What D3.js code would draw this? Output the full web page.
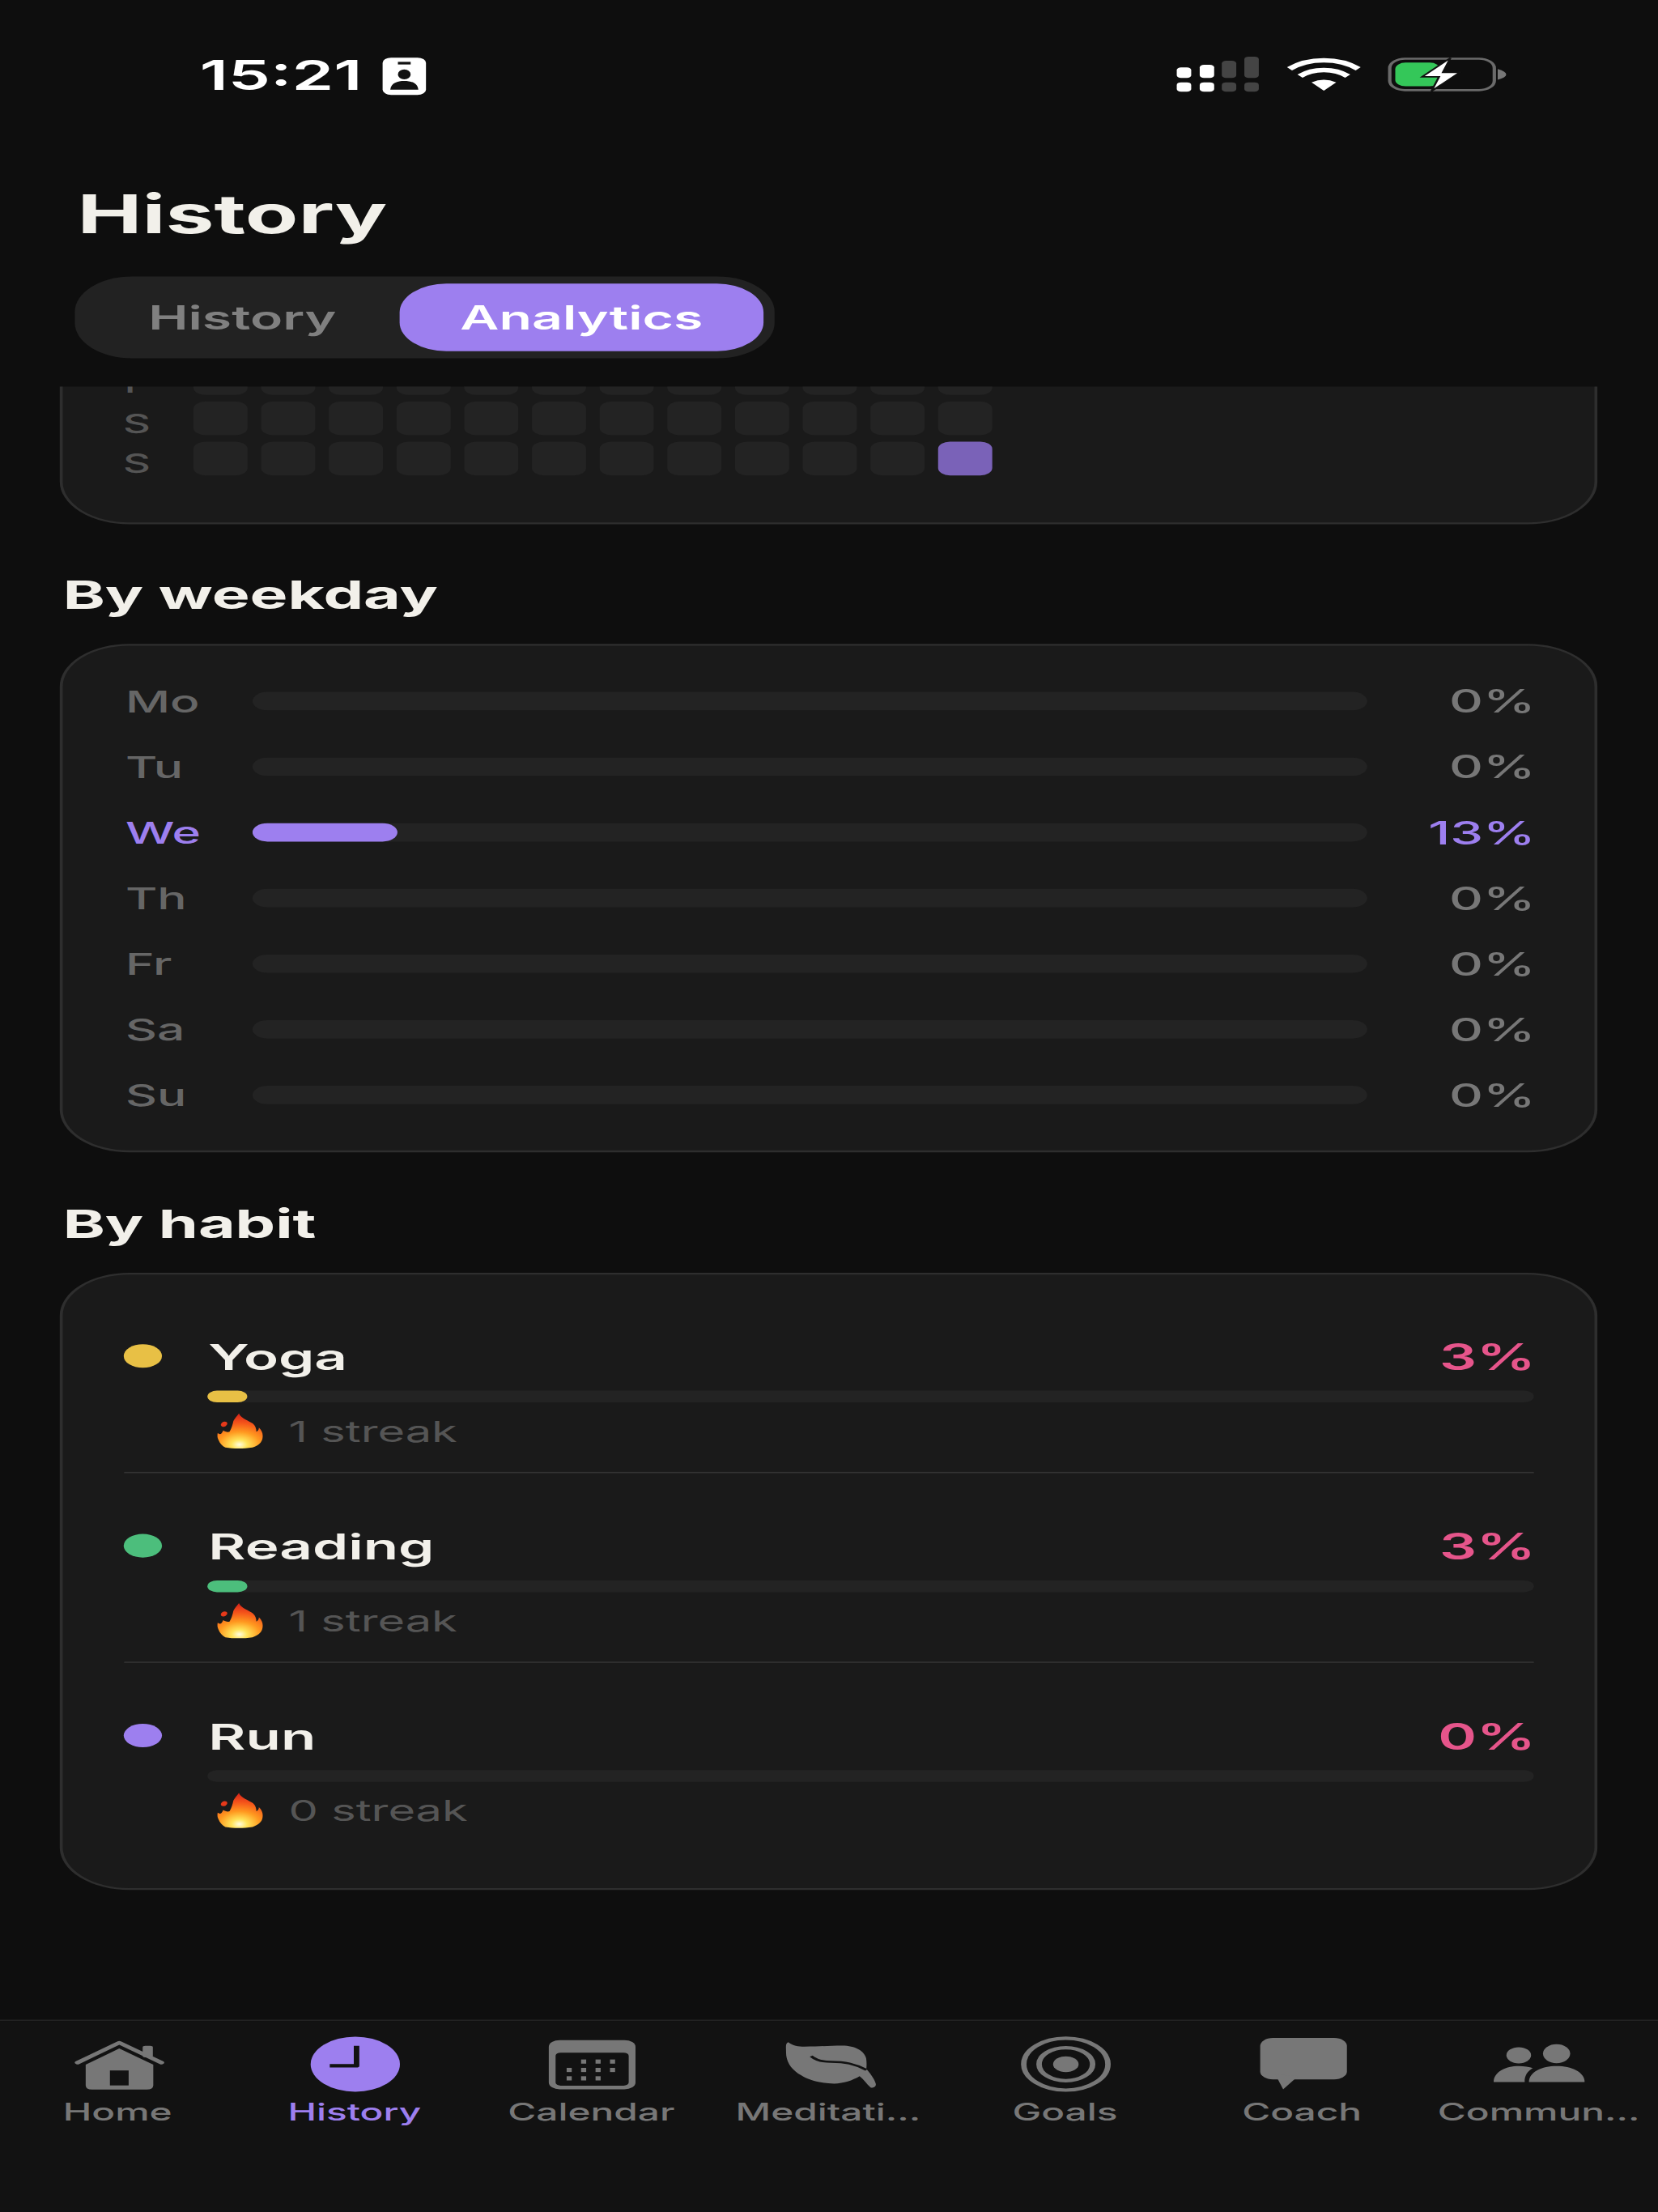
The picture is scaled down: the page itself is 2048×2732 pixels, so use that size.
<!DOCTYPE html>
<html><head><meta charset="utf-8">
<script src="https://cdnjs.cloudflare.com/ajax/libs/d3/7.8.5/d3.min.js"></script>
<style>html,body{margin:0;background:#0e0e0e}svg{display:block}text{font-family:Inter,"Noto Sans",sans-serif}</style>
</head><body>
<div id="chart"></div>
<script>
// ---- data ----
const weekdays = ["Mo","Tu","We","Th","Fr","Sa","Su"];
const weekdayValues = [0,0,13,0,0,0,0];
const habits = ["Yoga","Reading","Run"];
const habitValues = [3,3,0];
const habitStreaks = [1,1,0];
const habitColors = ["#e8c045","#4cbe7c","#9d7fef"];
const heatRows = ["F","S","S"];
const heatColumns = d3.range(12);
const heatValues = [
 [0,0,0,0,0,0,0,0,0,0,0,0],
 [0,0,0,0,0,0,0,0,0,0,0,0],
 [0,0,0,0,0,0,0,0,0,0,0,1]];
const navLabels = ["Home","History","Calendar","Meditati...","Goals","Coach","Commun..."];
const tabs = ["History","Analytics"];

const svg = d3.select("#chart").append("svg")
  .attr("width",2048).attr("height",2732)
  .attr("viewBox","0 0 390 844").attr("preserveAspectRatio","none");
const PURPLE="#9d7fef", BG="#0e0e0e", CARD="#1a1a1a", LINE="#2e2e2e", TRACK="#232323";
svg.append("rect").attr("width",390).attr("height",844).attr("fill",BG);
function label(g,t,x,y,size,weight,color,anchor){
  return g.append("text").text(t).attr("x",x).attr("y",y).attr("font-size",size)
   .attr("font-weight",weight).attr("fill",color).attr("text-anchor",anchor||"start")
   .attr("dominant-baseline","central");
}
function card(y0,y1,parent){
  (parent||svg).append("rect").attr("x",14.4).attr("y",y0).attr("width",361).attr("height",y1-y0)
   .attr("rx",16).attr("fill",CARD).attr("stroke",LINE).attr("stroke-width",.7);
}
// ---- status bar ----
label(svg,"15:21",47,28.6,15.8,600,"#fff");
const idc=svg.append("g").attr("transform","translate(90,22)");
idc.append("rect").attr("width",10.2).attr("height",14.2).attr("rx",2).attr("fill","#fff");
idc.append("rect").attr("x",3.6).attr("y",1.6).attr("width",3).attr("height",1).attr("fill","#111");
idc.append("ellipse").attr("cx",5.1).attr("cy",6.4).attr("rx",1.5).attr("ry",1.9).attr("fill","#111");
idc.append("path").attr("d","M1.8,12.2C2,9.6 3.5,8.9 5.1,8.9C6.7,8.9 8.2,9.6 8.4,12.2Z").attr("fill","#111");
const sig=[[276.8,25.7],[282.2,24.7],[287.4,23.2],[292.7,21.6]];
sig.forEach((s,i)=>{const c=i<2?"#fff":"#444";
 svg.append("rect").attr("x",s[0]).attr("y",s[1]).attr("width",3.4).attr("height",29.7-s[1]).attr("rx",1).attr("fill",c);
 svg.append("rect").attr("x",s[0]).attr("y",31.4).attr("width",3.4).attr("height",3.6).attr("rx",1).attr("fill",c);});
const wifi=svg.append("g").attr("transform","translate(311.4,34.6)");
[[11.6,.77,1.7],[7.9,.79,1.7]].forEach(a=>wifi.append("path").attr("fill","none").attr("stroke","#fff").attr("stroke-width",a[2])
  .attr("d",d3.arc()({innerRadius:a[0],outerRadius:a[0],startAngle:-a[1],endAngle:a[1]})));
wifi.append("path").attr("d","M-2.9,-3.2Q0,-5.2 2.9,-3.2L0,0Z").attr("fill","#fff");
svg.append("rect").attr("x",326.9).attr("y",22.4).attr("width",24.6).attr("height",12).attr("rx",3.6).attr("fill","none").attr("stroke","#6a6a6a").attr("stroke-width",.8);
svg.append("rect").attr("x",328.2).attr("y",23.9).attr("width",10.5).attr("height",9).attr("rx",2.4).attr("fill","#34c759");
svg.append("path").attr("d","M352.3,26.3Q354.3,27.2 354.3,28.4Q354.3,29.6 352.3,30.4Z").attr("fill","#777");
svg.append("path").attr("d","M341.2,22.1L334.5,29.3H338.5L336.7,34.8L343.4,27.6H339.4Z").attr("fill","#fff").attr("stroke","#111").attr("stroke-width",.5);
// ---- scrolled content, clipped under the header ----
svg.append("clipPath").attr("id","scroll").append("rect").attr("x",0).attr("y",147.5).attr("width",390).attr("height",623);
const body=svg.append("g").attr("clip-path","url(#scroll)");
card(60,199.7,body);
const hx=d3.scaleBand().domain(heatColumns).range([45.5,233.4]).paddingInner(.2).paddingOuter(0);
const hy=d3.scaleBand().domain(d3.range(3)).range([137.8,181.4]).paddingInner(.16).paddingOuter(0);
heatRows.forEach((r,i)=>{
  label(body,r,32.2,hy(i)+hy.bandwidth()/2+2,10,500,"#555","middle");
  body.selectAll(null).data(heatValues[i]).join("rect")
   .attr("x",(d,j)=>hx(j)).attr("y",hy(i)).attr("width",hx.bandwidth()).attr("height",hy.bandwidth())
   .attr("rx",2.8).attr("fill",d=>d?"#7a62b8":TRACK);
});
// ---- header ----
label(svg,"History",18.2,81.6,20.4,700,"#f2f0ea");
svg.append("rect").attr("x",17.6).attr("y",105.5).attr("width",164.6).attr("height",31.2).attr("rx",13.5).attr("fill","#222");
svg.append("rect").attr("x",94).attr("y",108.2).attr("width",85.6).attr("height",25.8).attr("rx",11).attr("fill",PURPLE);
label(svg,tabs[0],57,121.2,12.6,600,"#808080","middle");
label(svg,tabs[1],136.8,121.2,12.6,600,"#fff","middle");
// ---- by weekday ----
label(body,"By weekday",14.8,227,15,700,"#f2f0ea");
card(246,439.3,body);
const wy=d3.scalePoint().domain(weekdays).range([267.5,417.8]);
const wx=d3.scaleLinear().domain([0,100]).range([59.4,321.6]);
weekdays.forEach((d,i)=>{
  const c=weekdayValues[i]>0;
  const cy=wy(d);
  label(body,d,29.5,cy,11.5,500,c?PURPLE:"#666");
  body.append("rect").attr("x",wx(0)).attr("y",cy-3.5).attr("width",wx(100)-wx(0)).attr("height",7).attr("rx",3.5).attr("fill",TRACK);
  if(c) body.append("rect").attr("x",wx(0)).attr("y",cy-3.5).attr("width",wx(weekdayValues[i])-wx(0)).attr("height",7).attr("rx",3.5).attr("fill",PURPLE);
  label(body,weekdayValues[i]+"%",361.2,cy,12.4,500,c?PURPLE:"#777","end");
});
// ---- by habit ----
label(body,"By habit",14.8,467,15,700,"#f2f0ea");
card(486,720.8,body);
const defs=svg.append("defs");
const gr=defs.append("radialGradient").attr("id","flame").attr("gradientUnits","userSpaceOnUse")
  .attr("cx",5).attr("cy",11.6).attr("r",11.5);
[[0,"#fffde0"],[.16,"#ffe45a"],[.42,"#ff9a20"],[.72,"#f5551a"],[1,"#d8261a"]].forEach(s=>gr.append("stop").attr("offset",s[0]).attr("stop-color",s[1]));
const ry=d3.scalePoint().domain(habits).range([517.4,662.2]);
const rx=d3.scaleLinear().domain([0,100]).range([48.8,360.8]);
habits.forEach((h,i)=>{
  const cy=ry(h);
  body.append("circle").attr("cx",33.6).attr("cy",cy).attr("r",4.5).attr("fill",habitColors[i]);
  label(body,h,49,cy+.4,13.5,600,"#f2f0ea");
  label(body,habitValues[i]+"%",361.2,cy+.4,13.8,600,"#e6558b","end");
  body.append("rect").attr("x",rx(0)).attr("y",cy+13.2).attr("width",rx(100)-rx(0)).attr("height",4.5).attr("rx",2.25).attr("fill",TRACK);
  if(habitValues[i]>0) body.append("rect").attr("x",rx(0)).attr("y",cy+13.2).attr("width",rx(habitValues[i])-rx(0)).attr("height",4.5).attr("rx",2.25).attr("fill",habitColors[i]);
  const f=body.append("g").attr("transform",`translate(51.3,${cy+22.2})`);
  f.append("path").attr("fill","url(#flame)").attr("d","M4.9,-.3C5.4,1.6 7.2,2.4 8.2,3.6C8.8,4.4 9,5.6 9,6.7C9.4,6.4 9.6,5.8 9.6,5.1C10.2,6 10.5,7 10.5,8.2C10.5,9.2 10.4,10 10,10.8C9.4,11.8 8.9,12.3 8.1,12.7C6,13.2 3.6,13.2 1.7,12.7C1,12.2 .4,11 .1,9.8C-.2,9 -.2,8 -.1,7.2C.4,7.8 .8,7.8 1.2,6.2C1.6,6.6 2.2,7 2.7,6.7C3.2,5.4 3.4,4 3.6,2.6C3.9,1.6 4.5,.6 4.9,-.3Z");
  f.append("ellipse").attr("cx",1.4).attr("cy",3.8).attr("rx",.7).attr("ry",1).attr("transform","rotate(25 1.4 3.8)").attr("fill","#e5391a");
  label(body,`${habitStreaks[i]} streak`,67.9,cy+28.8,11,400,"#555");
  if(i<habits.length-1) body.append("rect").attr("x",29.2).attr("y",cy+44.2).attr("width",331.6).attr("height",.5).attr("fill","#333");
});
// ---- tab bar ----
svg.append("rect").attr("y",770.8).attr("width",390).attr("height",73.2).attr("fill","#121212");
svg.append("rect").attr("y",770.6).attr("width",390).attr("height",.5).attr("fill","#222");
const nx=d3.scaleBand().domain(navLabels).range([0,390]);
const GR="#777", DK="#121212";
const draw=[
 g=>{g.append("path").attr("d","M-9.6,-.6L.2,-8.2L10.1,-.6").attr("fill","none").attr("stroke",GR).attr("stroke-width",1.3).attr("stroke-linecap","round").attr("stroke-linejoin","round");
     g.append("rect").attr("x",5.7).attr("y",-7).attr("width",2.4).attr("height",4.4).attr("rx",.6).attr("fill",GR);
     g.append("path").attr("d","M.2,-6L8.2,.2V8Q8.2,9.7 6.6,9.7H-6.2Q-7.7,9.7 -7.7,8V.2Z").attr("fill",GR);
     g.append("rect").attr("x",-2).attr("y",2.4).attr("width",4.4).attr("height",5.7).attr("fill",DK);},
 g=>{g.append("circle").attr("r",10.5).attr("fill",PURPLE);
     g.append("path").attr("d","M0.3,-7V0.6H-6").attr("fill","none").attr("stroke",DK).attr("stroke-width",1.3).attr("stroke-linejoin","round");},
 g=>{g.append("rect").attr("x",-10.2).attr("y",-9.2).attr("width",20.4).attr("height",18.8).attr("rx",2.6).attr("fill",GR);
     g.append("rect").attr("x",-8.6).attr("y",-4.4).attr("width",17.2).attr("height",12.6).attr("rx",1.2).attr("fill",DK);
     [[-2,-1],[1.4,-1],[4.8,-1],[-5.4,2.2],[-2,2.2],[1.4,2.2],[4.8,2.2],[-5.4,5.4],[-2,5.4],[1.4,5.4]].forEach(p=>
       g.append("rect").attr("x",p[0]-.6).attr("y",p[1]-.8).attr("width",1.2).attr("height",1.6).attr("fill",GR));},
 g=>{g.append("path").attr("fill",GR).attr("d","M-9.6,-8.4C-8.5,-7 -7.2,-6.7 -5.8,-6.7C-2,-6.7 0,-7.1 3.1,-7.1C6.5,-7.1 8.8,-4.5 8.8,-1.4C8.9,-.2 8.8,1.8 8.8,1.8C9.6,3.5 10.5,5 11,7.4C11.2,8.6 10.2,9.2 9.8,8.9C8.8,7.6 8.2,5.8 7.2,4.6C5.5,6.2 3.5,7.4 1.2,7.4C-2,7.4 -5,6 -6.5,4.3C-9,2 -10.1,-1 -10.1,-4.5C-10.1,-6.5 -10.3,-8 -9.6,-8.4Z");
     g.append("path").attr("fill","none").attr("stroke",DK).attr("stroke-width",.8).attr("d","M-4.2,-3.1C-3,-1.4 -1.4,-.9 .5,-.9C3.7,-.9 6,-.2 8.8,2.2");},
 g=>{g.append("circle").attr("r",9.9).attr("fill","none").attr("stroke",GR).attr("stroke-width",1.3);
     g.append("circle").attr("r",6.3).attr("fill","none").attr("stroke",GR).attr("stroke-width",1.3);
     g.append("circle").attr("r",3).attr("fill",GR);},
 g=>{g.append("rect").attr("x",-10).attr("y",-10).attr("width",20.4).attr("height",15.8).attr("rx",3).attr("fill",GR);
     g.append("path").attr("d","M-6.4,4L-4.6,9.6L-1,4.4Z").attr("fill",GR);},
 g=>{g.append("ellipse").attr("cx",-4.9).attr("cy",-3.4).attr("rx",2.9).attr("ry",3.1).attr("fill",GR);
     g.append("ellipse").attr("cx",4).attr("cy",-4).attr("rx",3.2).attr("ry",3.6).attr("fill",GR);
     g.append("path").attr("d","M-10.8,6.8C-10.8,3 -8,.7 -4.9,.7C-3.6,.7 -2.4,1 -1.6,1.5C-2.8,2.6 -3.6,4.5 -3.5,6.8Z").attr("fill",GR);
     g.append("path").attr("d","M-2.5,6.8C-2.5,3 .5,.7 4,.7C7.5,.7 10.6,3 10.6,6.8Z").attr("fill",GR);}
];
navLabels.forEach((n,i)=>{
  const cx=nx(n)+nx.bandwidth()/2;
  const g=svg.append("g").attr("transform",`translate(${cx},787.6)`);
  draw[i](g);
  label(svg,n,cx-.2,805.8,9.1,500,i==1?PURPLE:"#777","middle");
});
</script>
</body></html>
